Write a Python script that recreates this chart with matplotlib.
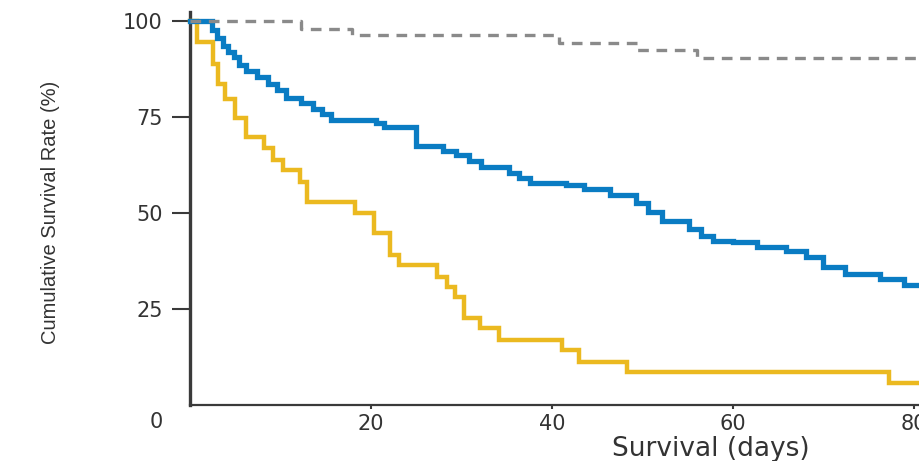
import matplotlib
matplotlib.use("Agg")
import matplotlib.pyplot as plt
import numpy as np
from matplotlib.transforms import ScaledTranslation

# ---------------- data ----------------
grey_times = [12.3, 17.9, 40.8, 49.4, 56.0]
grey_surv = [98.0, 96.2, 94.3, 92.4, 90.4]

blue_times = [2.4, 3.0, 3.6, 4.2, 4.9, 5.4, 6.2, 7.4, 8.6, 9.6, 10.6, 12.3,
              13.6, 14.6, 15.6, 20.5, 21.4, 25.0, 28.0, 29.4, 30.8, 32.2,
              35.2, 36.3, 37.6, 41.5, 43.5, 46.4, 49.3, 50.6, 52.1, 55.1,
              56.5, 57.8, 60.0, 62.7, 65.8, 68.1, 69.9, 72.4, 76.2, 78.9]
blue_surv = [97.5, 95.5, 93.5, 92.0, 90.5, 88.5, 87.0, 85.5, 83.5, 82.0,
             80.0, 78.5, 77.0, 75.8, 74.3, 73.3, 72.3, 67.4, 66.2, 65.0,
             63.5, 62.0, 60.5, 59.0, 57.8, 57.3, 56.1, 54.6, 52.6, 50.3,
             47.9, 45.8, 44.0, 42.8, 42.3, 41.0, 40.0, 38.4, 35.9, 34.0,
             32.9, 31.2]

yellow_times = [0.8, 2.5, 3.1, 3.9, 5.0, 6.2, 8.2, 9.2, 10.3, 12.2, 12.9,
                18.2, 20.3, 22.1, 23.1, 27.3, 28.4, 29.3, 30.3, 32.0, 34.1,
                41.1, 43.0, 48.3, 77.2]
yellow_surv = [94.5, 88.8, 83.6, 79.7, 74.7, 69.8, 66.9, 63.8, 61.2, 58.1,
               52.9, 50.0, 44.8, 39.1, 36.5, 33.3, 30.7, 28.1, 22.7, 20.1,
               16.9, 14.3, 11.2, 8.6, 5.7]

x_ticks = [20, 40, 60, 80]
y_ticks = [0, 25, 50, 75, 100]
x_label = "Survival (days)"
y_label = "Cumulative Survival Rate (%)"

# ---------------- styling ----------------
GREY = "#8a8a8a"
BLUE = "#0a7cc3"
YELLOW = "#ebb920"
TXT = "#333333"
XMAX = 80.55

fig = plt.figure(figsize=(9.19, 4.61), dpi=100)
ax = fig.add_axes([190 / 919, 56 / 461, 729 / 919, 393 / 461])
ax.set_xlim(0, XMAX)
ax.set_ylim(0, 102.3)


def km(times, surv, color, lw, z, **kw):
    t = np.concatenate([[0.0], times, [XMAX]])
    s = np.concatenate([[100.0], surv, [surv[-1]]])
    ax.plot(t, s, drawstyle="steps-post", color=color, linewidth=lw,
            zorder=z, solid_joinstyle="miter", clip_on=False, **kw)


km(yellow_times, yellow_surv, YELLOW, 3.2, 3)
km(blue_times, blue_surv, BLUE, 3.8, 4)
km(grey_times, grey_surv, GREY, 2.4, 5, dashes=(3.2, 2.3))

# axes
for side in ("top", "right"):
    ax.spines[side].set_visible(False)
ax.spines["left"].set_linewidth(2.4)
ax.spines["bottom"].set_linewidth(1.6)
ax.spines["left"].set_color("#3a3a3a")
ax.spines["bottom"].set_color("#3a3a3a")

ax.set_xticks(x_ticks)
ax.set_yticks(y_ticks)
ax.set_xticklabels([str(v) for v in x_ticks])
ax.set_yticklabels([str(v) for v in y_ticks])
ax.tick_params(axis="y", length=13, width=1.5, pad=6.5, labelsize=15,
               color="#3a3a3a", labelcolor=TXT)
ax.tick_params(axis="x", length=3, width=1.5, pad=3.5, labelsize=15,
               color="#3a3a3a", labelcolor=TXT)

ticks = ax.yaxis.get_major_ticks()
ticks[0].tick1line.set_visible(False)
lab0 = ticks[0].label1
lab0.set_transform(lab0.get_transform() +
                   ScaledTranslation(0, -0.145, fig.dpi_scale_trans))

ax.set_xlabel(x_label, fontsize=19, color=TXT)
ax.xaxis.set_label_coords(0.7147, -0.08)
ax.set_ylabel(y_label, fontsize=14.5, color=TXT,
              family=["Liberation Sans", "DejaVu Sans"])
ax.yaxis.set_label_coords(-0.178, 0.49)

fig.savefig("out.png", dpi=100)
